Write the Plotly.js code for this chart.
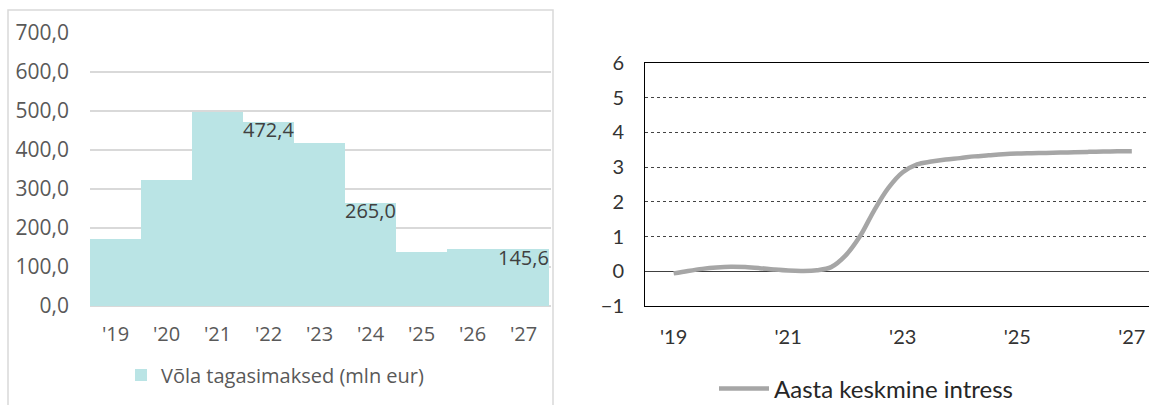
<!DOCTYPE html>
<html>
<head>
<meta charset="utf-8">
<script src="https://cdn.plot.ly/plotly-3.0.1.min.js"></script>
<style>
  html, body { margin: 0; padding: 0; background: #ffffff; overflow: hidden; }
  #chart { width: 1149px; height: 405px; }
</style>
</head>
<body>
<div id="chart"></div>
<script>
// ---- Left chart data: debt repayments (mln eur) ----
const barCategories = ["'19", "'20", "'21", "'22", "'23", "'24", "'25", "'26", "'27"];
const barValues = [172, 322, 498, 472.4, 417, 265.0, 139, 145, 145.6];
const labeledCategories = ["'22", "'24", "'27"];
const barSeriesName = "Võla tagasimaksed (mln eur)";

// ---- Right chart data: average annual interest (%) ----
const lineYears = [2019, 2019.25, 2019.5, 2019.75, 2020, 2020.25, 2020.5, 2020.75,
                   2021, 2021.25, 2021.5, 2021.75, 2022, 2022.25, 2022.5, 2022.75,
                   2023, 2023.25, 2023.5, 2023.75, 2024, 2024.25, 2024.5, 2024.75,
                   2025, 2025.25, 2025.5, 2025.75, 2026, 2026.25, 2026.5, 2026.75, 2027];
const lineValues = [-0.06, 0.01, 0.07, 0.11, 0.13, 0.12, 0.09, 0.05,
                    0.02, 0.01, 0.03, 0.12, 0.45, 1.0, 1.75, 2.40,
                    2.85, 3.08, 3.16, 3.22, 3.26, 3.31, 3.34, 3.37,
                    3.39, 3.40, 3.41, 3.42, 3.43, 3.44, 3.45, 3.455, 3.46];
const lineTickYears = [2019, 2021, 2023, 2025, 2027];
const lineTickLabels = ["'19", "'21", "'23", "'25", "'27"];
const lineSeriesName = "Aasta keskmine intress";

const W = 1149, H = 405;
const px = v => v / W;
const py = v => 1 - v / H;

const fmt = v => v.toFixed(1).replace('.', ',');

const leftFont = "'Open Sans', 'Noto Sans', sans-serif";
const rightFont = "Lato, 'Noto Sans', sans-serif";

const traces = [
  {
    type: 'bar',
    x: barCategories,
    y: barValues,
    name: barSeriesName,
    marker: { color: '#bae4e5', line: { width: 0 } },
    hoverinfo: 'skip',
    xaxis: 'x', yaxis: 'y',
    legend: 'legend'
  },
  {
    type: 'scatter',
    mode: 'lines',
    x: lineYears,
    y: lineValues,
    name: lineSeriesName,
    line: { color: '#a6a6a6', width: 4.5, shape: 'spline', smoothing: 1 },
    hoverinfo: 'skip',
    xaxis: 'x2', yaxis: 'y2',
    legend: 'legend2'
  }
];

// data labels for selected bars, placed just under each bar's top
const barLabels = barCategories
  .map((c, i) => ({ c, v: barValues[i] }))
  .filter(d => labeledCategories.includes(d.c))
  .map(d => ({
    xref: 'x', yref: 'y', x: d.c, y: d.v,
    text: fmt(d.v), showarrow: false,
    xanchor: 'center', yanchor: 'middle', yshift: -8,
    font: { family: leftFont, size: 20, color: '#404040' }
  }));

const layout = {
  width: W, height: H,
  margin: { l: 0, r: 0, t: 0, b: 0, pad: 0, autoexpand: false },
  paper_bgcolor: '#ffffff',
  plot_bgcolor: 'rgba(0,0,0,0)',
  separators: ', ',
  bargap: 0,
  showlegend: true,
  xaxis: {
    domain: [px(90), px(551)],
    type: 'category',
    showgrid: false, zeroline: false, showline: false,
    ticks: '',
    ticklabelstandoff: 14,
    tickfont: { family: leftFont, size: 20, color: '#595959' },
    fixedrange: true
  },
  yaxis: {
    domain: [1 - 306 / H, 1 - 33 / H],
    range: [0, 700],
    dtick: 100,
    tickformat: '.1f',
    showgrid: true, gridcolor: '#d9d9d9', gridwidth: 2,
    zeroline: true, zerolinecolor: '#d9d9d9', zerolinewidth: 2,
    showline: false, ticks: '',
    ticklabelstandoff: 20,
    tickfont: { family: leftFont, size: 21, color: '#595959' },
    fixedrange: true
  },
  xaxis2: {
    domain: [px(645), 1],
    range: [2018.5, 2027.3],
    tickvals: lineTickYears,
    ticktext: lineTickLabels,
    showgrid: false, zeroline: false,
    showline: true, linecolor: '#000000', linewidth: 1, mirror: true,
    ticks: '',
    ticklabelstandoff: 13,
    tickfont: { family: rightFont, size: 20, color: '#333333' },
    anchor: 'y2',
    fixedrange: true
  },
  yaxis2: {
    domain: [1 - 306 / H, 1 - 63 / H],
    range: [-1, 6],
    dtick: 1,
    showgrid: true, gridcolor: '#444444', gridwidth: 1, griddash: 'dot',
    zeroline: true, zerolinecolor: '#404040', zerolinewidth: 1,
    showline: true, linecolor: '#000000', linewidth: 1,
    ticks: '',
    ticklabelstandoff: 16,
    tickfont: { family: rightFont, size: 20, color: '#333333' },
    anchor: 'x2',
    fixedrange: true
  },
  legend: {
    x: px(121), y: py(375), xanchor: 'left', yanchor: 'middle',
    orientation: 'h',
    bgcolor: 'rgba(0,0,0,0)', borderwidth: 0,
    font: { family: leftFont, size: 20, color: '#595959' }
  },
  legend2: {
    x: px(714), y: py(389), xanchor: 'left', yanchor: 'middle',
    orientation: 'h',
    itemwidth: 50,
    bgcolor: 'rgba(0,0,0,0)', borderwidth: 0,
    font: { family: rightFont, size: 24, color: '#262626' }
  },
  annotations: barLabels,
  shapes: [
    {
      type: 'rect', xref: 'paper', yref: 'paper',
      x0: px(8), x1: px(553), y0: -0.1, y1: py(10),
      line: { color: '#d9d9d9', width: 1.5 },
      fillcolor: 'rgba(0,0,0,0)', layer: 'below'
    }
  ]
};

Plotly.newPlot('chart', traces, layout, { staticPlot: true, displayModeBar: false });
</script>
</body>
</html>
